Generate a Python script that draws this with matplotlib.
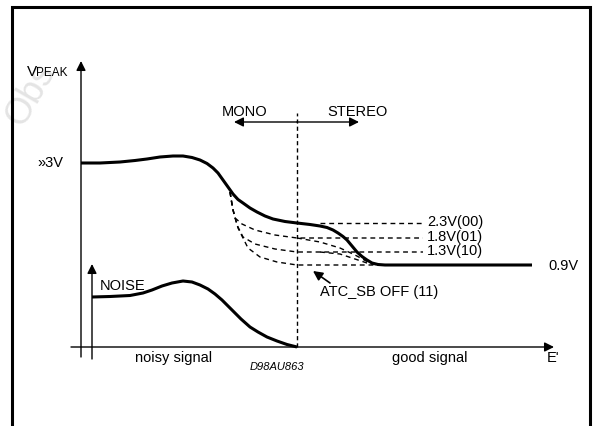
import matplotlib
matplotlib.use("Agg")
import matplotlib.pyplot as plt

plt.rcParams['font.family'] = ['Liberation Sans', 'DejaVu Sans']

# Schematic units: x along E' (origin at the VPEAK axis), y up from the E' axis
# Main VPEAK curve (solid)
vpeak_x = [0, 19, 39, 54, 66, 79, 92, 102, 111, 119, 126, 132, 137, 142, 147, 152, 157, 162,
           169, 176, 184, 192, 204, 216, 229, 239, 246, 252, 257, 262, 266, 271, 276, 281,
           286, 291, 297, 304, 451]
vpeak_y = [184, 184, 185, 186.5, 188, 190, 191, 191, 189.5, 187, 183.5, 179, 174, 167, 160, 153,
           147.5, 144, 139, 135, 131, 128, 125.5, 124, 122.5, 121, 119.5, 117, 114, 110.5, 107,
           101, 95, 90.5, 87, 84, 82.5, 82, 82]

# Noise curve (solid)
noise_x = [11, 29, 49, 62, 71, 81, 91, 102, 111, 119, 127, 134, 141, 147, 153, 160, 169, 177,
           186, 196, 206, 216]
noise_y = [50, 50.5, 51.5, 54, 57, 61, 64, 66, 65, 62, 58, 53, 47, 41, 35, 28, 20, 15, 10, 6,
           2.5, 0]

# Dashed ATC_SB curves
d00_x = [239, 342]
d00_y = [124, 124]
d01_x = [149, 151, 154, 161, 174, 194, 216, 342]
d01_y = [155, 142, 129, 123, 117, 112, 109, 109]
d10_x = [149, 152, 156, 162, 174, 194, 216, 342]
d10_y = [155, 137, 122, 110, 103, 98, 95, 95]
d11_x = [149, 152, 157, 167, 179, 196, 216, 304]
d11_y = [155, 137, 119, 99, 90, 85, 82, 82]
s01_x = [216, 239, 259, 274, 287, 297]
s01_y = [109, 105, 99, 92, 85, 82]
s10_x = [239, 259, 274, 286, 297]
s10_y = [95, 93, 88, 84, 82]

level_labels = ["2.3V(00)", "1.8V(01)", "1.3V(10)"]
level_y = [125, 110.5, 96]

fig = plt.figure(figsize=(5.95, 4.26), dpi=100)
ax = fig.add_axes([0, 0, 1, 1])
ax.set_xlim(-81, 514)
ax.set_ylim(-79, 347)
ax.axis('off')

# faint watermark
ax.text(-52, 215, "Obs", rotation=60, fontsize=26, color='#e4e4e4',
        ha='left', va='bottom', rotation_mode='anchor', zorder=0)

# frame
ax.plot([-69, -69, 509, 509], [-90, 340, 340, -90], color='k', lw=2.2, solid_joinstyle='miter')

arrow = dict(arrowstyle='-|>', color='k', lw=1.0, mutation_scale=14, shrinkA=0, shrinkB=0)
# axes
ax.annotate('', xy=(0, 286), xytext=(0, -10), arrowprops=arrow)
ax.annotate('', xy=(473, 0), xytext=(-10, 0), arrowprops=arrow)
ax.annotate('', xy=(11, 83), xytext=(11, -12), arrowprops=arrow)
# MONO / STEREO
ax.annotate('', xy=(153, 225), xytext=(216, 225), arrowprops=arrow)
ax.annotate('', xy=(278, 225), xytext=(216, 225), arrowprops=arrow)
ax.plot([216, 216], [0, 234], color='k', lw=1.0, dashes=(3, 2.2))

# dashed curves
for xs, ys in [(d00_x, d00_y), (d01_x, d01_y), (d10_x, d10_y), (d11_x, d11_y),
               (s01_x, s01_y), (s10_x, s10_y)]:
    ax.plot(xs, ys, color='k', lw=1.0, dashes=(3.5, 2.8))

# solid curves
ax.plot(vpeak_x, vpeak_y, color='k', lw=2.2, solid_capstyle='butt', solid_joinstyle='round')
ax.plot(noise_x, noise_y, color='k', lw=2.2, solid_capstyle='butt', solid_joinstyle='round')

fs = 10.5
ax.text(-54, 271, "V", fontsize=11, ha='left', va='baseline')
ax.text(-45, 271, "PEAK", fontsize=8.5, ha='left', va='baseline')
ax.text(-18, 184, "»3V", fontsize=fs, ha='right', va='center')
ax.text(164, 235, "MONO", fontsize=fs, ha='center', va='center')
ax.text(276.5, 235, "STEREO", fontsize=fs, ha='center', va='center')
ax.text(19, 61, "NOISE", fontsize=fs, ha='left', va='center')
for lab, ly in zip(level_labels, level_y):
    ax.text(346, ly, lab, fontsize=fs, ha='left', va='center')
ax.text(467, 81.5, "0.9V", fontsize=fs, ha='left', va='center')
ax.text(239, 55, "ATC_SB OFF (11)", fontsize=fs, ha='left', va='center')
ax.annotate('', xy=(232, 76), xytext=(249, 64),
            arrowprops=dict(arrowstyle='-|>', color='k', lw=1.2, mutation_scale=14, shrinkA=0, shrinkB=0))
ax.text(92.5, -11, "noisy signal", fontsize=fs, ha='center', va='center')
ax.text(349, -11, "good signal", fontsize=fs, ha='center', va='center')
ax.text(466, -11, "E'", fontsize=fs, ha='left', va='center')
ax.text(195.5, -20.5, "D98AU863", fontsize=8, style='italic', ha='center', va='center')

fig.savefig("out.png", dpi=100)
